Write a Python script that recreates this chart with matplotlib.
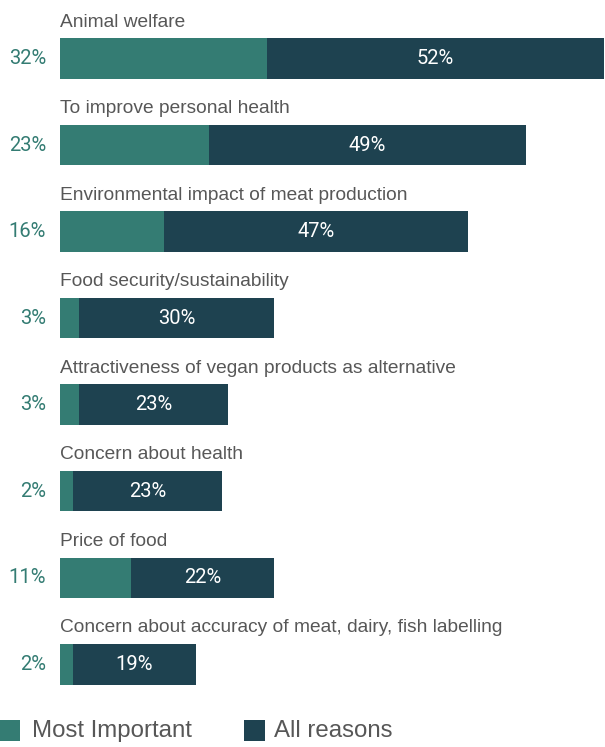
import matplotlib.pyplot as plt
from matplotlib.patches import Rectangle

reasons = [
    'Animal welfare',
    'To improve personal health',
    'Environmental impact of meat production',
    'Food security/sustainability',
    'Attractiveness of vegan products as alternative',
    'Concern about health',
    'Price of food',
    'Concern about accuracy of meat, dairy, fish labelling',
]
most_important = [32, 23, 16, 3, 3, 2, 11, 2]
all_reasons = [52, 49, 47, 30, 23, 23, 22, 19]

TEAL = '#347c73'
DARK = '#1e4250'
GREY = '#575757'

W, H = 605, 747
fig = plt.figure(figsize=(W / 100, H / 100), dpi=100)

# axes: left edge at 60px, right at 604px; rows from y=15 to y=708
ax = fig.add_axes([60 / W, 1 - 707.6 / H, 544 / W, 692.4 / H])
ax.set_xlim(0, 84)
ax.set_ylim(len(reasons) - 0.5, -0.5)
ax.axis('off')

ys = range(len(reasons))
bar_h = 0.468
ax.barh(ys, most_important, height=bar_h, color=TEAL, linewidth=0)
ax.barh(ys, all_reasons, left=most_important, height=bar_h, color=DARK, linewidth=0)

num_font = dict(family='Roboto', fontsize=14.5)

for i, (name, mi, ar) in enumerate(zip(reasons, most_important, all_reasons)):
    ax.text(0, i - 0.368, name, ha='left', va='baseline', fontsize=13.8,
            color=GREY, family='Liberation Sans')
    ax.annotate(f'{mi}%', xy=(0, i), xytext=(-10, 0), textcoords='offset points',
                ha='right', va='center', color=TEAL, **num_font)
    ax.text(mi + ar / 2, i, f'{ar}%', ha='center', va='center',
            color='white', **num_font)

# legend
fig.add_artist(Rectangle((0, 1 - 741 / H), 20 / W, 21 / H,
                         transform=fig.transFigure, color=TEAL, lw=0))
fig.text(32 / W, 1 - 731 / H, 'Most Important', ha='left', va='center',
         fontsize=17.3, color=GREY, family='Liberation Sans')
fig.add_artist(Rectangle((244 / W, 1 - 741 / H), 21 / W, 21 / H,
                         transform=fig.transFigure, color=DARK, lw=0))
fig.text(274 / W, 1 - 731 / H, 'All reasons', ha='left', va='center',
         fontsize=17.3, color=GREY, family='Liberation Sans')

fig.savefig('out.png', dpi=100)
